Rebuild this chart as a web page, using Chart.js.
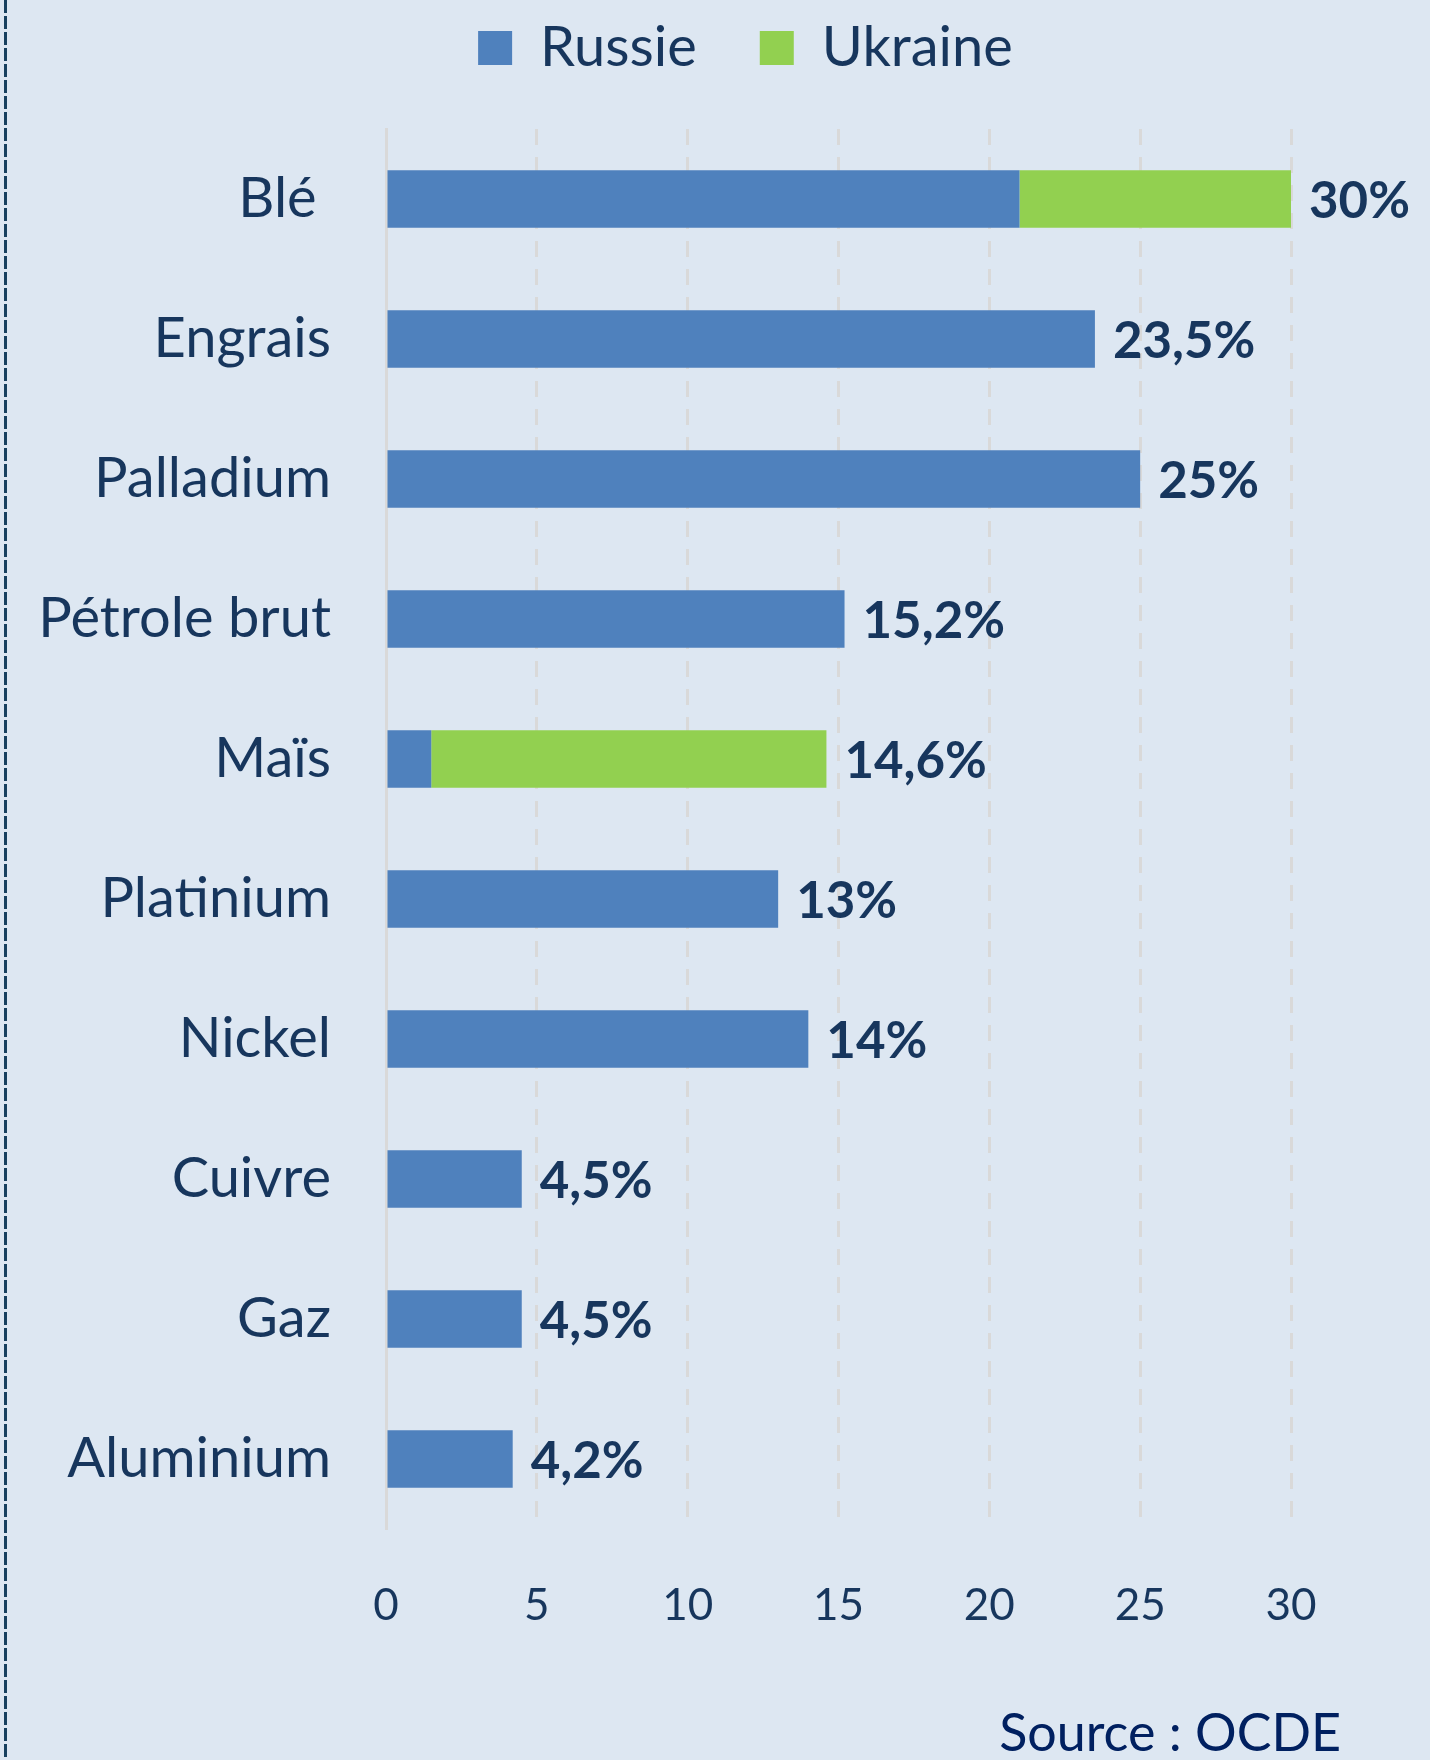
<!DOCTYPE html>
<html lang="fr">
<head>
    <meta charset="UTF-8">
    <title>Russie / Ukraine - parts de marché</title>
    <script src="https://cdn.jsdelivr.net/npm/chart.js"></script>
    <style>
        body { margin: 0; background: #dde7f2; }
        canvas { display: block; }
    </style>
</head>
<body>
    <canvas id="chartCanvas" width="1430" height="1760"></canvas>

    <script>
        // Data
        const categories = ['Blé ', 'Engrais', 'Palladium', 'Pétrole brut', 'Maïs', 'Platinium', 'Nickel', 'Cuivre', 'Gaz', 'Aluminium'];
        const russie  = [21, 23.5, 25, 15.2, 1.5, 13, 14, 4.5, 4.5, 4.2];
        const ukraine = [9, 0, 0, 0, 13.1, 0, 0, 0, 0, 0];
        const xTicks = [0, 5, 10, 15, 20, 25, 30];
        const sourceText = 'Source : OCDE';

        const navy = '#17365d';
        const gridGrey = '#d9d9d9';

        // background + dashed left border
        const frame = {
            id: 'frame',
            beforeDraw(chart) {
                const c = chart.ctx;
                c.save();
                c.fillStyle = '#dde7f2';
                c.fillRect(0, 0, chart.width, chart.height);
                c.strokeStyle = '#17405f';
                c.lineWidth = 3;
                c.setLineDash([13, 3]);
                c.beginPath();
                c.moveTo(5.5, 0);
                c.lineTo(5.5, chart.height);
                c.stroke();
                c.restore();
            }
        };

        // move the legend where it sits in the original
        const legendShift = {
            id: 'legendShift',
            afterLayout(chart) {
                const lg = chart.legend;
                lg.left += 100;
                lg.right += 100;
                lg.top -= 43;
                lg.bottom -= 43;
            }
        };

        // total labels at the end of each bar + source line
        const totals = {
            id: 'totals',
            afterDatasetsDraw(chart) {
                const c = chart.ctx;
                const xs = chart.scales.x, ys = chart.scales.y;
                c.save();
                c.font = 'bold 51px Lato';
                c.fillStyle = navy;
                c.textAlign = 'left';
                c.textBaseline = 'middle';
                categories.forEach((cat, i) => {
                    const total = Math.round((russie[i] + ukraine[i]) * 10) / 10;
                    const label = total.toLocaleString('fr-FR') + '%';
                    c.fillText(label, xs.getPixelForValue(total) + 18, ys.getPixelForValue(i) + 3);
                });
                c.font = '52px Lato';
                c.fillStyle = '#002060';
                c.textAlign = 'right';
                c.textBaseline = 'alphabetic';
                c.fillText(sourceText, 1341, 1751);
                c.restore();
            }
        };

        const ctx = document.getElementById('chartCanvas').getContext('2d');

        new Chart(ctx, {
            type: 'bar',
            data: {
                labels: categories,
                datasets: [
                    { label: 'Russie', data: russie, backgroundColor: '#4f81bd', borderWidth: 0 },
                    { label: 'Ukraine', data: ukraine, backgroundColor: '#92d050', borderWidth: 0 }
                ]
            },
            options: {
                indexAxis: 'y',
                responsive: false,
                animation: false,
                layout: { padding: { top: 0, right: 139, bottom: 0, left: 0 } },
                datasets: { bar: { categoryPercentage: 1, barPercentage: 0.41 } },
                plugins: {
                    legend: {
                        position: 'top',
                        labels: {
                            boxWidth: 34,
                            boxHeight: 34,
                            padding: 63,
                            color: navy,
                            font: { family: 'Lato', size: 56 }
                        }
                    },
                    tooltip: { enabled: false }
                },
                scales: {
                    x: {
                        stacked: true,
                        min: 0,
                        max: 30,
                        afterBuildTicks: s => { s.ticks = xTicks.map(v => ({ value: v })); },
                        afterFit: s => { s.height = 231; },
                        grid: { color: gridGrey, lineWidth: 3, drawTicks: false },
                        border: { display: false, dash: [16, 12] },
                        ticks: { color: navy, padding: 50, font: { family: 'Lato', size: 44 } }
                    },
                    y: {
                        stacked: true,
                        afterFit: s => { s.width = 386; },
                        grid: { display: false, drawTicks: false },
                        border: { display: true, color: gridGrey, width: 3 },
                        ticks: { color: navy, padding: 55, font: { family: 'Lato', size: 56 } }
                    }
                }
            },
            plugins: [frame, legendShift, totals]
        });
    </script>
</body>
</html>
